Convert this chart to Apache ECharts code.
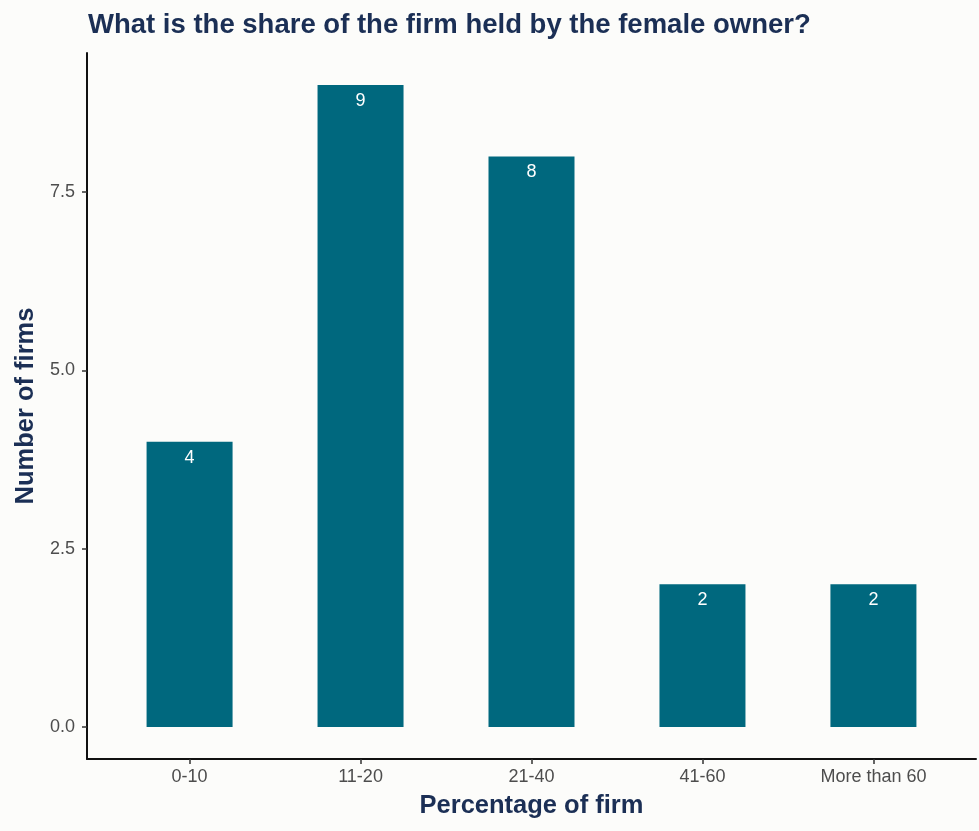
<!DOCTYPE html>
<html>
<head>
<meta charset="utf-8">
<script src="https://cdn.jsdelivr.net/npm/echarts@6/dist/echarts.min.js"></script>
<style>
  html, body { margin: 0; padding: 0; background: #ffffff; }
  #chart { width: 979px; height: 831px; }
</style>
</head>
<body>
<div id="chart"></div>
<script>
// Share of firm held by the female owner
const categories = ['0-10', '11-20', '21-40', '41-60', 'More than 60'];
const firmCounts = [4, 9, 8, 2, 2];
const yTicks = [0, 2.5, 5, 7.5];

const positions = categories.map((_, i) => i + 1);
const barData = firmCounts.map((v, i) => [positions[i], v]);

const chart = echarts.init(document.getElementById('chart'));
const navy = '#1b2f55';
const tickGrey = '#4d4d4d';
const font = 'Liberation Sans, Arial, sans-serif';

chart.setOption({
  backgroundColor: '#fcfcfa',
  animation: false,
  title: {
    text: 'What is the share of the firm held by the female owner?',
    left: 83,
    top: 6,
    textStyle: {
      fontFamily: font,
      fontSize: 27.5,
      fontWeight: 'bold',
      color: navy
    }
  },
  grid: { left: 87, right: 3, top: 53, bottom: 72, containLabel: false },
  xAxis: {
    type: 'value',
    min: 0.4,
    max: 5.6,
    name: 'Percentage of firm',
    nameLocation: 'middle',
    nameGap: 34,
    nameTextStyle: {
      fontFamily: font,
      fontSize: 25.5,
      fontWeight: 'bold',
      color: navy
    },
    splitLine: { show: false },
    axisLine: { show: true, onZero: false, lineStyle: { color: '#111', width: 2 } },
    axisTick: {
      show: true,
      customValues: positions,
      length: 5,
      lineStyle: { color: '#333', width: 1.5 }
    },
    axisLabel: {
      customValues: positions,
      margin: 9,
      fontFamily: font,
      fontSize: 18,
      color: tickGrey,
      formatter: v => categories[Math.round(v) - 1] || ''
    }
  },
  yAxis: {
    type: 'value',
    min: -0.45,
    max: 9.45,
    name: 'Number of firms',
    nameLocation: 'middle',
    nameGap: 42,
    nameRotate: 90,
    nameTextStyle: {
      fontFamily: font,
      fontSize: 25.5,
      fontWeight: 'bold',
      color: navy
    },
    splitLine: { show: false },
    axisLine: { show: true, onZero: false, lineStyle: { color: '#111', width: 2 } },
    axisTick: {
      show: true,
      customValues: yTicks,
      length: 5,
      lineStyle: { color: '#333', width: 1.5 }
    },
    axisLabel: {
      customValues: yTicks,
      margin: 12,
      fontFamily: font,
      fontSize: 18,
      color: tickGrey,
      formatter: v => v.toFixed(1)
    }
  },
  series: [{
    type: 'bar',
    data: barData,
    barWidth: 86,
    itemStyle: { color: '#00687e' },
    label: {
      show: true,
      position: 'insideTop',
      distance: 7,
      color: '#ffffff',
      fontFamily: font,
      fontSize: 18,
      formatter: p => String(p.value[1])
    }
  }]
});
</script>
</body>
</html>
